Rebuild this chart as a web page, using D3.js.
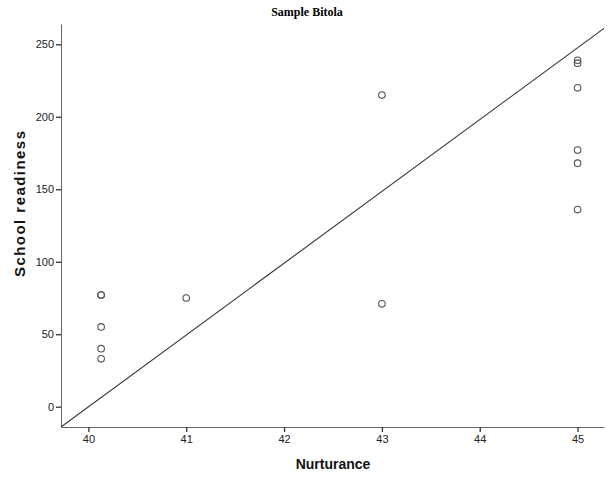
<!DOCTYPE html>
<html>
<head>
<meta charset="utf-8">
<script src="https://cdn.jsdelivr.net/npm/d3@7"></script>
<style>
  body { margin: 0; background: #fff; }
  .tick text { font-family: "Liberation Sans", Arial, sans-serif; font-size: 11px; fill: #222; }
  .axis path { stroke: #666; }
  .axis line { stroke: #333; stroke-width: 1.3; }
</style>
</head>
<body>
<div id="chart"></div>
<script>
// data
const nurturance = [40.13, 40.13, 40.13, 40.13, 40.13, 41, 43, 43, 45, 45, 45, 45, 45, 45]
const readiness = [77, 77, 55, 40, 33, 75, 215, 71, 239, 237, 220, 177, 168, 136]
const xTicks = [40, 41, 42, 43, 44, 45]
const yTicks = [0, 50, 100, 150, 200, 250]
// fit line ends
const fitX = [39.72, 45.27]
const fitY = [-14, 261]

const width = 614
const height = 478
const plotLeft = 61
const plotRight = 604
const plotTop = 24
const plotBottom = 427

const svg = d3.select("#chart")
  .append("svg")
  .attr("width", width)
  .attr("height", height)

const xScale = d3.scaleLinear().domain([39.72, 45.27]).range([plotLeft, plotRight])
const yScale = d3.scaleLinear().domain([-14, 264]).range([plotBottom, plotTop])

// title
svg.append("text")
  .attr("x", 307)
  .attr("y", 16)
  .attr("text-anchor", "middle")
  .style("font-family", "'Liberation Serif', 'Times New Roman', serif")
  .style("font-weight", "bold")
  .style("font-size", "12px")
  .text("Sample Bitola")

// axes
svg.append("g")
  .attr("class", "axis")
  .attr("transform", "translate(0," + plotBottom + ")")
  .call(d3.axisBottom(xScale).tickValues(xTicks).tickFormat(d3.format("d"))
    .tickSize(5).tickSizeOuter(0).tickPadding(3))

svg.append("g")
  .attr("class", "axis")
  .attr("transform", "translate(" + plotLeft + ",0)")
  .call(d3.axisLeft(yScale).tickValues(yTicks).tickSize(5).tickSizeOuter(0).tickPadding(2))

// axis titles
svg.append("text")
  .attr("x", 333)
  .attr("y", 469)
  .attr("text-anchor", "middle")
  .style("font-family", "'Liberation Sans', Arial, sans-serif")
  .style("font-weight", "bold")
  .style("font-size", "14px")
  .style("fill", "#111")
  .text("Nurturance")

svg.append("text")
  .attr("transform", "translate(25,204)rotate(-90)")
  .attr("text-anchor", "middle")
  .attr("textLength", 146)
  .attr("lengthAdjust", "spacing")
  .style("font-family", "'Liberation Sans', Arial, sans-serif")
  .style("font-weight", "bold")
  .style("font-size", "15px")
  .style("fill", "#111")
  .text("School readiness")

// fit line
svg.append("clipPath").attr("id", "plot")
  .append("rect")
  .attr("x", plotLeft).attr("y", plotTop)
  .attr("width", plotRight - plotLeft).attr("height", plotBottom - plotTop)

svg.append("line")
  .attr("clip-path", "url(#plot)")
  .attr("x1", xScale(fitX[0]))
  .attr("y1", yScale(fitY[0]))
  .attr("x2", xScale(fitX[1]))
  .attr("y2", yScale(fitY[1]))
  .attr("stroke", "#333")
  .attr("stroke-width", 1.1)

// points
svg.selectAll("circle.pt")
  .data(nurturance)
  .enter()
  .append("circle")
  .attr("class", "pt")
  .attr("cx", function(d) { return xScale(d) })
  .attr("cy", function(d, i) { return yScale(readiness[i]) })
  .attr("r", 3.3)
  .attr("fill", "none")
  .attr("stroke", "#555")
  .attr("stroke-width", 1.1)
</script>
</body>
</html>
